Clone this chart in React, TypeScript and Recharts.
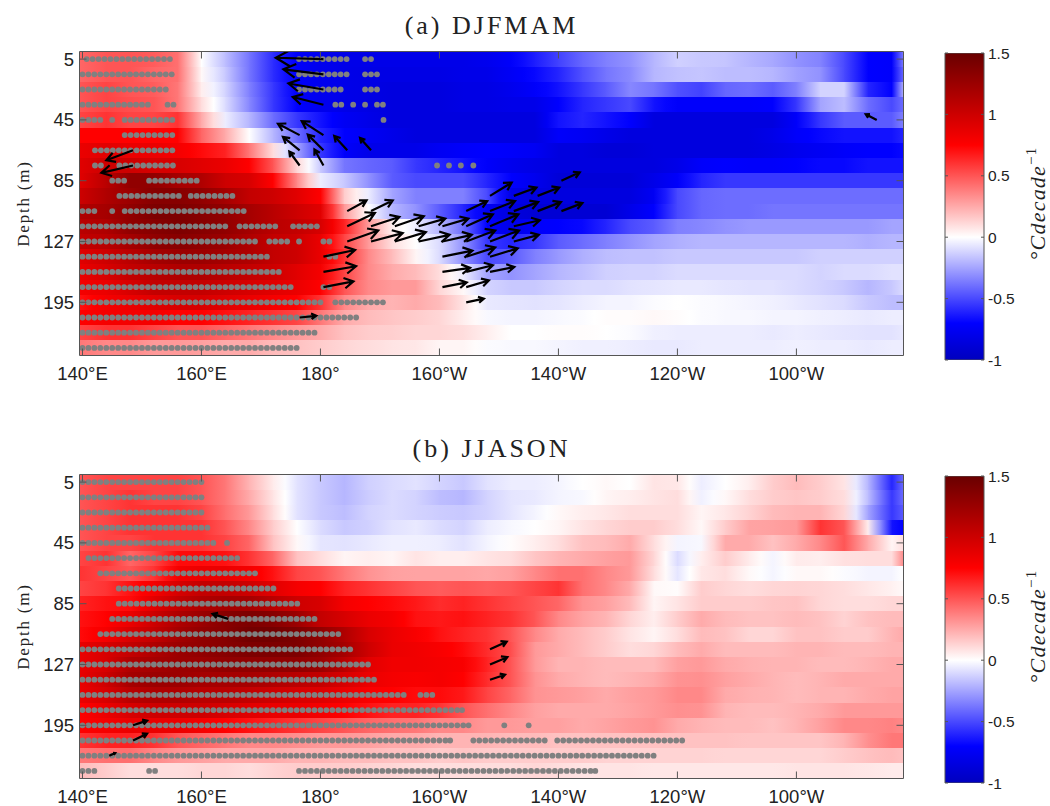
import { ScatterChart, Scatter, XAxis, YAxis, BarChart, Bar } from "recharts";

// longitude of each sampled column (degrees east, 180-360 = west)
const heatLons = [139.5, 144, 148, 152, 156, 160, 164, 168, 172, 176, 180, 184, 188, 192, 196, 200, 204, 208, 212, 216, 220, 224, 228, 232, 236, 240, 244, 248, 252, 256, 260, 264, 268, 272, 276, 278];
const lonTicks = [140, 160, 180, 200, 220, 240, 260];
const lonLabels = ["140°E", "160°E", "180°", "160°W", "140°W", "120°W", "100°W"];
const depthTicks = [0, 4, 8, 12, 16];
const depthLabels = ["5", "45", "85", "127", "195"];
const barTicks = [-1, -0.5, 0, 0.5, 1, 1.5];

const colorLevels = [-1, -0.7, 0, 0.75, 1.5];
const colorRgb = [[0, 0, 190], [0, 0, 255], [255, 255, 255], [255, 0, 0], [105, 0, 0]];

// trend, one row per depth level
const djfmamGrid = [
  [.45, .5, .5, .48, .42, 0, -.18, -.38, -.58, -.72, -.78, -.8, -.8, -.8, -.8, -.8, -.8, -.78, -.72, -.62, -.52, -.42, -.35, -.3, -.2, -.13, -.15, -.16, -.2, -.24, -.3, -.34, -.5, -.7, -.72, -.35],
  [.45, .5, .5, .45, .42, .02, -.15, -.38, -.58, -.72, -.78, -.8, -.82, -.82, -.82, -.82, -.8, -.8, -.74, -.68, -.6, -.48, -.38, -.32, -.2, -.17, -.16, -.18, -.18, -.2, -.26, -.3, -.5, -.7, -.72, -.4],
  [.5, .55, .5, .48, .4, .05, -.12, -.35, -.55, -.72, -.78, -.8, -.82, -.85, -.85, -.85, -.82, -.82, -.78, -.72, -.65, -.55, -.45, -.33, -.38, -.48, -.52, -.42, -.4, -.45, -.35, -.12, -.12, -.6, -.7, -.2],
  [.5, .55, .52, .5, .4, .1, -.1, -.33, -.55, -.7, -.78, -.8, -.82, -.85, -.85, -.85, -.82, -.82, -.8, -.8, -.7, -.6, -.55, -.5, -.65, -.72, -.72, -.72, -.72, -.7, -.55, -.25, -.18, -.4, -.5, -.4],
  [.55, .6, .55, .55, .6, .25, -.05, -.2, -.4, -.55, -.65, -.75, -.8, -.85, -.85, -.85, -.85, -.85, -.85, -.85, -.65, -.6, -.65, -.7, -.85, -.85, -.85, -.85, -.85, -.85, -.72, -.55, -.45, -.45, -.45, -.35],
  [.75, .75, .75, .75, .75, .45, .25, 0, -.2, -.4, -.6, -.7, -.75, -.8, -.85, -.85, -.85, -.85, -.85, -.85, -.72, -.75, -.8, -.85, -.85, -.85, -.85, -.85, -.85, -.8, -.72, -.68, -.65, -.65, -.65, -.6],
  [.85, .9, .85, .85, .8, .72, .65, .4, .1, -.25, -.55, -.72, -.8, -.8, -.8, -.75, -.72, -.7, -.72, -.75, -.85, -.85, -.88, -.88, -.85, -.85, -.85, -.85, -.85, -.82, -.78, -.75, -.72, -.7, -.7, -.68],
  [.9, 1, 1, .95, .95, .9, .85, .75, .5, .12, -.15, -.38, -.42, -.45, -.55, -.6, -.65, -.72, -.78, -.82, -.85, -.85, -.85, -.85, -.85, -.8, -.72, -.7, -.72, -.72, -.7, -.68, -.68, -.65, -.65, -.65],
  [.9, 1.1, 1.3, 1.3, 1.2, 1.15, 1, .95, .75, .35, -.05, -.15, -.3, -.45, -.5, -.5, -.5, -.6, -.7, -.78, -.88, -.88, -.88, -.88, -.8, -.72, -.6, -.55, -.55, -.55, -.55, -.55, -.55, -.55, -.55, -.55],
  [1, 1.15, 1.25, 1.35, 1.35, 1.3, 1.2, 1.05, 1, .9, .75, .15, -.05, -.25, -.35, -.35, -.35, -.5, -.8, -.85, -.85, -.85, -.85, -.85, -.75, -.5, -.42, -.4, -.4, -.4, -.4, -.4, -.4, -.4, -.4, -.4],
  [1.15, 1.2, 1.3, 1.4, 1.4, 1.35, 1.3, 1.2, 1.1, 1, .9, .3, 0, -.2, -.3, -.45, -.6, -.75, -.85, -.9, -.9, -.9, -.9, -.8, -.7, -.5, -.42, -.4, -.4, -.38, -.38, -.38, -.38, -.38, -.38, -.38],
  [1.1, 1.15, 1.3, 1.35, 1.4, 1.35, 1.3, 1.2, 1.1, 1.05, .95, .65, .3, .05, -.05, -.2, -.4, -.7, -.8, -.72, -.7, -.68, -.6, -.5, -.45, -.35, -.33, -.3, -.28, -.28, -.28, -.28, -.28, -.28, -.25, -.25],
  [1.05, 1.1, 1.2, 1.3, 1.35, 1.3, 1.25, 1.15, 1.05, 1, .85, .55, .3, .1, 0, -.1, -.3, -.55, -.6, -.55, -.45, -.4, -.35, -.3, -.25, -.22, -.2, -.2, -.2, -.2, -.2, -.2, -.2, -.22, -.2, -.2],
  [.9, 1, 1.1, 1.2, 1.25, 1.25, 1.2, 1.15, 1.05, 1, .85, .6, .35, .2, .03, -.1, -.3, -.5, -.45, -.35, -.28, -.22, -.18, -.17, -.17, -.15, -.15, -.15, -.15, -.15, -.15, -.13, -.13, -.13, -.13, -.13],
  [.85, .95, 1.05, 1.1, 1.15, 1.15, 1.1, 1.05, 1, .9, .8, .55, .35, .25, .2, .1, -.05, -.25, -.3, -.25, -.2, -.17, -.13, -.12, -.12, -.1, -.1, -.1, -.1, -.1, -.1, -.12, -.1, -.1, -.08, -.08],
  [.8, .85, .95, 1.05, 1.05, 1.05, 1, .95, .9, .85, .75, .5, .35, .3, .3, .12, .02, -.12, -.15, -.15, -.12, -.1, -.1, -.08, -.07, -.06, -.06, -.07, -.08, -.08, -.1, -.12, -.15, -.2, -.15, -.1],
  [.7, .8, .85, .9, .95, .95, .9, .85, .8, .75, .6, .35, .25, .22, .25, .2, .08, -.06, -.07, -.08, -.07, -.05, -.03, -.03, -.01, 0, -.01, -.02, -.03, -.04, -.06, -.08, -.1, -.15, -.18, -.18],
  [.75, .8, .8, .8, .75, .75, .7, .65, .6, .55, .4, .25, .2, .17, .15, .12, .05, -.02, -.03, -.03, -.02, -.01, .01, .01, .02, .01, -.01, -.02, -.02, -.03, -.03, -.04, -.05, -.06, -.05, -.05],
  [.55, .6, .6, .55, .5, .5, .45, .4, .35, .3, .25, .18, .15, .14, .12, .12, .1, .05, 0, 0, .01, .01, 0, -.01, -.04, -.05, -.05, -.05, -.05, -.06, -.05, -.06, -.07, -.08, -.08, -.06],
  [.4, .35, .35, .3, .3, .28, .25, .25, .2, .18, .15, .12, .1, .08, .07, .03, .03, -.01, -.02, -.02, -.03, -.04, -.04, -.05, -.06, -.06, -.05, -.05, -.05, -.05, -.04, -.05, -.05, -.06, -.05, -.05],
];

const jjasonGrid = [
  [.5, .55, .55, .55, .55, .5, .4, .22, .06, -.08, -.15, -.2, -.13, -.1, -.08, -.12, -.15, -.08, -.05, -.05, -.03, 0, .02, 0, .08, .07, -.05, 0, .05, .15, .2, .15, .08, -.2, -.6, -.4],
  [.5, .55, .6, .55, .55, .5, .4, .25, .08, -.08, -.15, -.2, -.14, -.1, -.12, -.18, -.2, -.12, -.07, -.06, -.03, -.02, .03, .05, .08, .1, -.04, .02, .1, .15, .17, .15, .1, -.18, -.55, -.4],
  [.5, .55, .6, .6, .6, .55, .42, .3, .1, -.08, -.15, -.18, -.12, -.1, -.12, -.14, -.15, -.12, -.07, -.03, .02, .05, .07, .1, .1, .1, .03, .07, .13, .2, .22, .22, .12, -.25, -.55, -.45],
  [.5, .55, .6, .6, .6, .6, .5, .35, .15, 0, -.1, -.15, -.13, -.08, -.06, -.1, -.12, -.05, -.02, 0, .03, .08, .12, .15, .15, .1, .02, .15, .27, .28, .3, .6, .5, .05, -.65, -.7],
  [.5, .55, .55, .6, .6, .6, .55, .45, .18, .02, -.07, -.08, -.06, -.04, -.04, -.05, -.08, -.03, .01, .05, .1, .18, .2, .25, .1, -.03, -.02, .25, .25, .18, .25, .35, .5, .25, .03, .1],
  [.55, .6, .45, .55, .72, .72, .7, .6, .45, .18, .1, .03, .05, .03, .08, .05, .05, .08, .1, .17, .22, .25, .28, .3, .12, -.1, .05, .15, .06, -.03, .06, .05, .09, .1, .1, .35],
  [.6, .55, .5, .6, .8, .85, .85, .8, .7, .55, .5, .4, .32, .28, .27, .27, .27, .26, .28, .35, .42, .42, .35, .3, .1, -.07, .07, .1, .02, -.03, .02, .02, -.01, -.03, -.03, 0],
  [.55, .6, .7, .8, .95, 1.05, 1.05, 1, .9, .8, .75, .65, .6, .55, .5, .48, .5, .48, .5, .55, .6, .42, .35, .25, .02, .01, .15, .12, .1, .12, .13, .12, .1, .07, .04, .02],
  [.65, .7, .72, .9, 1.05, 1.15, 1.2, 1.2, 1.1, 1, .95, .8, .75, .72, .68, .62, .65, .6, .55, .5, .45, .32, .28, .2, .03, .08, .15, .15, .15, .17, .18, .12, .1, .1, .12, .12],
  [.7, .75, .85, 1, 1.15, 1.25, 1.35, 1.4, 1.35, 1.25, 1.05, .95, .85, .8, .7, .68, .7, .65, .6, .5, .35, .27, .22, .12, .05, .15, .25, .2, .18, .18, .2, .18, .13, .18, .2, .2],
  [.72, .8, .95, 1.05, 1.2, 1.3, 1.35, 1.45, 1.45, 1.4, 1.3, 1.15, .95, .85, .78, .7, .65, .6, .5, .35, .25, .2, .15, .08, .03, .1, .2, .18, .12, .12, .18, .18, .15, .15, .22, .25],
  [.85, .95, 1.05, 1.15, 1.25, 1.3, 1.35, 1.4, 1.4, 1.4, 1.3, 1.2, 1, .85, .82, .78, .72, .62, .52, .3, .25, .2, .15, .1, .12, .2, .25, .2, .2, .2, .22, .22, .2, .2, .22, .22],
  [.85, .95, 1.15, 1.2, 1.25, 1.25, 1.3, 1.3, 1.3, 1.3, 1.25, 1.1, .9, .82, .82, .8, .78, .65, .5, .3, .22, .22, .2, .2, .2, .28, .3, .25, .23, .22, .22, .2, .2, .22, .25, .25],
  [.85, 1, 1.2, 1.25, 1.25, 1.2, 1.2, 1.2, 1.15, 1.1, 1.05, .95, .85, .8, .78, .8, .75, .62, .5, .32, .25, .22, .2, .22, .25, .32, .33, .28, .25, .22, .2, .22, .25, .25, .25, .25],
  [.85, .95, 1.1, 1.15, 1.15, 1.1, 1.1, 1.05, 1, .95, .92, .85, .78, .75, .72, .72, .68, .55, .45, .32, .3, .28, .25, .28, .3, .35, .35, .25, .23, .22, .2, .22, .22, .25, .27, .27],
  [.75, .85, .95, 1, 1, 1, .95, .9, .85, .85, .8, .75, .7, .65, .65, .6, .5, .42, .35, .28, .25, .25, .25, .27, .3, .33, .32, .22, .2, .2, .22, .25, .3, .3, .3, .3],
  [.75, .8, .85, .85, .85, .8, .75, .7, .65, .6, .55, .5, .45, .42, .4, .35, .35, .3, .3, .28, .28, .25, .27, .3, .32, .25, .22, .2, .2, .18, .22, .28, .35, .35, .37, .35],
  [.6, .65, .65, .6, .5, .45, .4, .35, .35, .33, .3, .3, .28, .25, .25, .22, .22, .22, .2, .2, .18, .18, .18, .18, .18, .18, .18, .18, .17, .17, .17, .17, .22, .33, .4, .4],
  [.4, .42, .42, .35, .3, .28, .25, .25, .25, .22, .22, .2, .2, .18, .18, .15, .17, .15, .15, .15, .15, .15, .13, .13, .13, .13, .13, .12, .12, .12, .12, .12, .15, .18, .2, .18],
  [.2, .15, .1, .1, .1, .12, .12, .1, .13, .15, .15, .15, .13, .12, .1, .1, .1, .1, .1, .12, .1, .08, .08, .08, .07, .07, .07, .07, .07, .07, .08, .08, .08, .07, .06, .06],
];

// significant stretches per depth level, [first lon, last lon] at 1 degree spacing
const djfmamDots = [
  [[140.7, 155.3], [176.4, 184.7], [187.5, 188.6]],
  [[140, 155.3], [176.4, 184.5], [187.5, 189.7]],
  [[140, 154.3], [176.4, 183.6], [187.5, 189.7]],
  [[140, 151.2], [154.3, 155.3], [182.5, 183.6], [185.5, 185.5], [187.5, 187.5], [189.5, 190.6]],
  [[140, 143.2], [145, 145], [147.1, 155.3], [190.6, 190.6]],
  [[147.1, 155.3]],
  [[142.1, 155.3]],
  [[142.1, 143.2], [146.2, 155.3], [199.6, 199.6], [201.6, 201.6], [203.6, 203.6], [205.7, 205.7]],
  [[145, 147.1], [151.2, 159.3]],
  [[146.2, 156.4], [158.2, 165.3]],
  [[140, 142.1], [145, 145], [147.1, 167.3]],
  [[140, 164.3], [166.4, 172.5], [175.4, 179.5]],
  [[140, 169.4], [171.4, 174.4], [176.4, 176.4], [180.5, 181.5]],
  [[140, 171.4], [181.5, 182.5]],
  [[140, 173.5]],
  [[140, 175.4], [180.5, 181.5]],
  [[140, 180.6], [182.5, 190.6]],
  [[140, 186.5]],
  [[140, 179.5]],
  [[140, 176.5]],
];

const jjasonDots = [
  [[140, 160.3]],
  [[140, 160.3]],
  [[140, 160.3]],
  [[140, 161.3]],
  [[140, 162.3], [164.3, 164.3]],
  [[141, 166.4]],
  [[143, 169.4]],
  [[146.1, 172.5]],
  [[146.1, 176.5]],
  [[145, 179.5]],
  [[143, 183.6]],
  [[140, 185.5]],
  [[140, 188.6]],
  [[140, 189.6]],
  [[140, 194.6], [196.8, 198.8]],
  [[140, 203.8]],
  [[140, 204.9], [210.9, 210.9], [215, 215]],
  [[140, 201.8], [205.7, 218], [219.8, 241.1]],
  [[140, 236.3]],
  [[140, 142.1], [151.2, 152.2], [176.4, 226.2]],
];

// quiver: [tail lon, depth level, east, north]
const djfmamArrows = [
  [180.5, 0, -143, 4], [180.5, 1, -120, 15], [180.5, 2, -105, 18], [180.5, 3, -92, 23], [273.5, 4, -33, 17],
  [176.5, 5, -65, 34], [180.5, 5, -65, 42],
  [148.5, 6, -80, -30], [176.5, 6, -50, 40], [180.5, 6, -47, 47], [184.5, 6, -39, 43], [188.5, 6, -33, 37],
  [148.5, 7, -95, -22], [176.5, 7, -31, 42], [180.5, 7, -27, 48],
  [220.5, 8, 55, 25],
  [208.5, 9, 65, 40], [212.5, 9, 68, 25], [216.5, 9, 65, 25],
  [184.5, 10, 58, 32], [188.5, 10, 65, 32], [204.5, 10, 63, 30], [208.5, 10, 75, 30], [212.5, 10, 73, 27], [216.5, 10, 70, 27], [220.5, 10, 63, 24],
  [184.5, 11, 83, 40], [188.5, 11, 85, 28], [192.5, 11, 87, 30], [196.5, 11, 80, 23], [200.5, 11, 78, 23], [204.5, 11, 80, 36], [208.5, 11, 85, 36], [212.5, 11, 78, 18],
  [184.5, 12, 93, 33], [188.5, 12, 95, 25], [192.5, 12, 93, 28], [196.5, 12, 93, 20], [200.5, 12, 88, 20], [204.5, 12, 87, 33], [208.5, 12, 87, 33], [212.5, 12, 75, 20],
  [180.5, 13, 95, 20], [200.5, 13, 90, 18], [204.5, 13, 87, 28], [208.5, 13, 83, 25],
  [180.5, 14, 98, 17], [200.5, 14, 83, 12], [204.5, 14, 80, 20], [208.5, 14, 73, 15],
  [180.5, 15, 90, 17], [200.5, 15, 73, 14], [204.5, 15, 68, 20],
  [204.5, 16, 53, 11],
  [176.5, 17, 50, 5],
];

const jjasonArrows = [
  [164.5, 9, -47, 15], [208.5, 11, 50, 23], [208.5, 12, 52, 22], [208.5, 13, 45, 15],
  [148.5, 16, 42, 14], [148.5, 17, 42, 20], [144.5, 18, 18, 8],
];

const plotW = 824;
const plotH = 304;
const lonMin = 139.5;
const lonMax = 278;
const pxPerDeg = plotW / (lonMax - lonMin);
const rowH = plotH / 20;
const quiverScale = 1 / 3;
const sans = "'Liberation Sans', Arial, sans-serif";
const serif = "'Liberation Serif', serif";

function trendColor(v: number) {
  let i = 0;
  while (i < colorLevels.length - 2 && v > colorLevels[i + 1]) i++;
  const t = Math.min(1, Math.max(0, (v - colorLevels[i]) / (colorLevels[i + 1] - colorLevels[i])));
  const c = colorRgb[i].map((a, k) => Math.round(a + (colorRgb[i + 1][k] - a) * t));
  return `rgb(${c[0]},${c[1]},${c[2]})`;
}

function buildCells(grid: number[][]) {
  const cells: any[] = [];
  grid.forEach((vals, row) => {
    vals.slice(0, -1).forEach((v, i) => {
      cells.push({ lon: heatLons[i], row, v, next: vals[i + 1], span: heatLons[i + 1] - heatLons[i] });
    });
  });
  return cells;
}

function buildDots(runs: number[][][]) {
  const dots: any[] = [];
  runs.forEach((rowRuns, row) => {
    rowRuns.forEach(([a, b]) => {
      for (let lon = a; lon <= b + 0.3; lon += 1) dots.push({ lon: Math.min(lon, b), row });
    });
  });
  return dots;
}

let gradId = 0;
function HeatCell({ cx, cy, payload }: any) {
  const id = `cell${gradId++}`;
  return (
    <g>
      <defs>
        <linearGradient id={id} x1="0" x2="1" y1="0" y2="0">
          <stop offset="0" stopColor={trendColor(payload.v)} />
          <stop offset="0.5" stopColor={trendColor((payload.v + payload.next) / 2)} />
          <stop offset="1" stopColor={trendColor(payload.next)} />
        </linearGradient>
      </defs>
      <rect x={cx} y={cy - rowH / 2} width={payload.span * pxPerDeg + 0.6} height={rowH + 0.4} fill={`url(#${id})`} shapeRendering="crispEdges" />
    </g>
  );
}

function Dot({ cx, cy }: any) {
  return <circle cx={cx} cy={cy} r={2.9} fill="#808080" />;
}

function Arrow({ cx, cy, payload }: any) {
  const dx = payload.u * quiverScale;
  const dy = -payload.v * quiverScale;
  const hx = cx + dx;
  const hy = cy + dy;
  const a = 0.3;
  const b = 0.17;
  const d = `M${cx},${cy}L${hx},${hy}M${hx - a * dx - b * dy},${hy - a * dy + b * dx}L${hx},${hy}L${hx - a * dx + b * dy},${hy - a * dy - b * dx}`;
  return <path d={d} fill="none" stroke="#000" strokeWidth={2.2} />;
}

function UnitLabel({ viewBox }: any) {
  const x = viewBox.x + viewBox.width - 5;
  const y = viewBox.y + viewBox.height / 2 - 3;
  return (
    <text x={x} y={y} transform={`rotate(-90 ${x} ${y})`} textAnchor="middle" fill="#222" fontFamily={serif} fontSize={22} fontStyle="italic" letterSpacing={1.2}>
      <tspan>°Cdecade</tspan>
      <tspan dy={-9} fontSize={15} fontStyle="normal">−1</tspan>
    </text>
  );
}

// shared by the data chart (invisible, keeps the scales) and the overlay that draws them on top
function plotAxes(visible: boolean, title: string) {
  const tickStyle = { fontSize: 18.5, fontFamily: sans, fill: "#222" };
  const look = visible ? { tickSize: -7, stroke: "#555" } : { tick: false, tickLine: false, axisLine: false };
  return [
    <XAxis key="b" type="number" dataKey="lon" domain={[lonMin, lonMax]} ticks={lonTicks} interval={0} height={30} allowDataOverflow
      tickFormatter={(v: number) => lonLabels[lonTicks.indexOf(v)]} tick={tickStyle} tickMargin={18} {...look} />,
    <XAxis key="t" xAxisId="top" orientation="top" type="number" dataKey="lon" domain={[lonMin, lonMax]} ticks={lonTicks} interval={0} height={1} allowDataOverflow
      tickFormatter={() => ""} {...look}
      label={visible ? { value: title, position: "top", offset: 17, style: { fontFamily: serif, fontSize: 26, letterSpacing: 3, fill: "#222" } } : undefined} />,
    <YAxis key="l" type="number" dataKey="row" reversed domain={[-0.5, 19.5]} ticks={depthTicks} interval={0} width={79.5} allowDataOverflow
      tickFormatter={(v: number) => depthLabels[depthTicks.indexOf(v)]} tick={tickStyle} tickMargin={12.5} {...look}
      label={visible ? { value: "Depth (m)", angle: -90, position: "insideLeft", offset: 23, style: { fontFamily: serif, fontSize: 17, letterSpacing: 1.8, fill: "#222", textAnchor: "middle" } } : undefined} />,
    <YAxis key="r" yAxisId="right" orientation="right" type="number" dataKey="row" reversed domain={[-0.5, 19.5]} ticks={depthTicks} interval={0} width={1} allowDataOverflow
      tickFormatter={() => ""} {...look} />,
  ];
}

function barAxes(visible: boolean) {
  const look = visible ? {} : { tick: false, tickLine: false };
  return [
    <XAxis key="x" dataKey="name" hide />,
    <YAxis key="l" yAxisId="left" orientation="left" type="number" domain={[-1, 1.5]} ticks={barTicks} interval={0} width={1} allowDataOverflow
      tickFormatter={() => ""} tickSize={-3} stroke="#555" axisLine={false} {...look} />,
    <YAxis key="r" orientation="right" type="number" domain={[-1, 1.5]} ticks={barTicks} interval={0} width={66} allowDataOverflow
      tickFormatter={(v: number) => String(v)} tick={{ fontSize: 15.5, fontFamily: sans, fill: "#222" }} tickSize={-3} tickMargin={7} stroke="#555" axisLine={false} {...look}
      label={visible ? { content: UnitLabel } : undefined} />,
  ];
}

function Panel({ top, title, grid, runs, arrows }: any) {
  const cells = buildCells(grid);
  const dots = buildDots(runs);
  const quiver = arrows.map(([lon, row, u, v]: number[]) => ({ lon, row, u, v }));
  const barStops = [-1, -0.7, 0, 0.75, 1.5];
  const gid = `bar${top}`;
  const margin = { top: 50.5, left: 0, right: 15.5, bottom: 14.5 };
  const barMargin = { top: 53, left: 14, right: 0, bottom: 40 };
  const layer: any = { position: "absolute", left: 0, top: 0 };
  return (
    <div style={{ position: "absolute", left: 0, top, width: 1050, height: 400 }}>
      <div style={layer}>
        <ScatterChart width={920} height={400} margin={margin}>
          {plotAxes(false, title)}
          <Scatter data={cells} dataKey="row" shape={HeatCell} isAnimationActive={false} />
          <Scatter data={dots} dataKey="row" shape={Dot} isAnimationActive={false} />
          <Scatter data={quiver} dataKey="row" shape={Arrow} isAnimationActive={false} />
        </ScatterChart>
      </div>
      <div style={layer}>
        <ScatterChart width={920} height={400} margin={margin}>
          {plotAxes(true, title)}
        </ScatterChart>
      </div>
      <div style={{ ...layer, left: 930 }}>
        <BarChart width={120} height={400} data={[{ name: "trend", range: [-1, 1.5] }]} barCategoryGap={0} margin={barMargin}>
          <defs>
            <linearGradient id={gid} x1="0" x2="0" y1="1" y2="0">
              {barStops.map((s) => (
                <stop key={s} offset={(s + 1) / 2.5} stopColor={trendColor(s)} />
              ))}
            </linearGradient>
          </defs>
          {barAxes(false)}
          <Bar dataKey="range" fill={`url(#${gid})`} stroke="#555" isAnimationActive={false} />
        </BarChart>
      </div>
      <div style={{ ...layer, left: 930 }}>
        <BarChart width={120} height={400} data={[{ name: "trend", range: [-1, 1.5] }]} barCategoryGap={0} margin={barMargin}>
          {barAxes(true)}
          <Bar dataKey="range" fill="none" stroke="none" isAnimationActive={false} />
        </BarChart>
      </div>
    </div>
  );
}

export default function App() {
  return (
    <div style={{ position: "absolute", left: 0, top: 0, width: 1050, height: 806, background: "#fff", overflow: "hidden" }}>
      <Panel top={0} title="(a) DJFMAM" grid={djfmamGrid} runs={djfmamDots} arrows={djfmamArrows} />
      <Panel top={423} title="(b) JJASON" grid={jjasonGrid} runs={jjasonDots} arrows={jjasonArrows} />
    </div>
  );
}
